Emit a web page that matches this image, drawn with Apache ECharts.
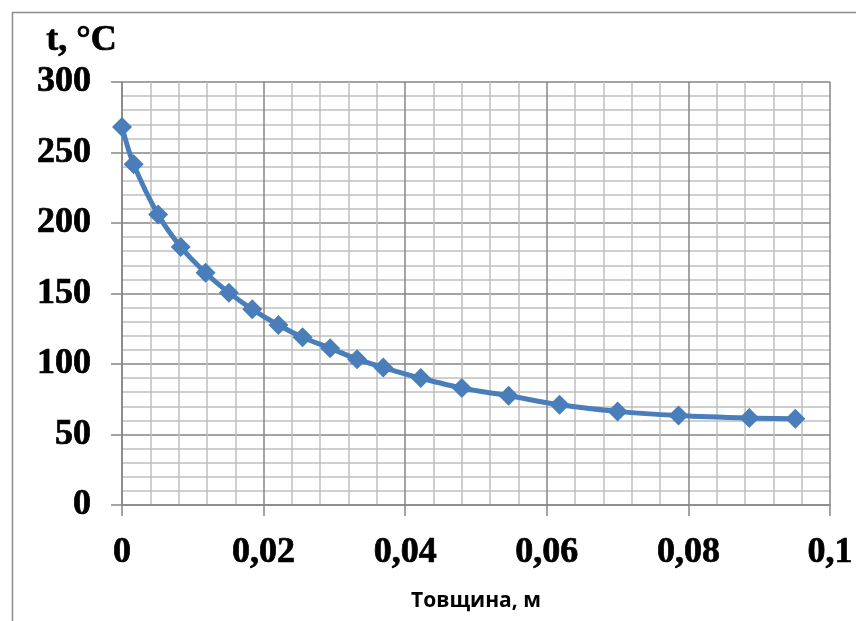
<!DOCTYPE html>
<html>
<head>
<meta charset="utf-8">
<script src="https://cdn.jsdelivr.net/npm/echarts@6/dist/echarts.min.js"></script>
<style>html,body{margin:0;padding:0;background:#fff}#c{width:856px;height:621px}</style>
</head>
<body>
<div id="c"></div>
<script>
const thickness = [0, 0.00165, 0.0051, 0.0083, 0.0118, 0.0151, 0.0184, 0.0221, 0.0255, 0.0294, 0.0332, 0.0369, 0.0422, 0.0480, 0.0546, 0.0618, 0.0700, 0.0786, 0.0886, 0.0951];
const temperature = [268, 241.6, 206, 183, 164.7, 150.6, 138.8, 127.7, 119, 111.2, 103.4, 97.5, 90, 82.9, 77.5, 71.1, 66.4, 63.5, 61.7, 61.2];
const yTitle = 't, °C';
const xTitle = 'Товщина, м';

const chart = echarts.init(document.getElementById('c'));
const tnr = '"Liberation Serif", "Times New Roman", serif';
const heavy = {textBorderColor: '#000', textBorderWidth: 0.7};
chart.setOption({
  animation: false,
  graphic: [
    {type: 'rect', shape: {x: 12.5, y: 12.5, width: 1000, height: 1000}, style: {fill: 'none', stroke: '#8c8c8c', lineWidth: 1.5}, z: -10},
    {type: 'text', left: 46, top: 22, style: Object.assign({text: yTitle, font: 'bold 36px ' + tnr, fill: '#000'}, {stroke: '#000', lineWidth: 0.7})}
  ],
  grid: {left: 122, right: 26, top: 82, bottom: 116, containLabel: false},
  xAxis: {
    type: 'value', min: 0, max: 0.1, interval: 0.02,
    name: xTitle, nameLocation: 'middle', nameGap: 86,
    nameTextStyle: {fontFamily: '"Open Sans", sans-serif', fontWeight: 'bold', fontSize: 21, color: '#000'},
    axisLine: {show: true, lineStyle: {color: '#868686', width: 1.5}},
    axisTick: {show: true, inside: false, length: 11, lineStyle: {color: '#868686', width: 1.5}},
    axisLabel: Object.assign({margin: 30, fontFamily: tnr, fontWeight: 'bold', fontSize: 36, color: '#000',
      formatter: v => String(+v.toFixed(3)).replace('.', ',')}, heavy),
    splitLine: {show: true, lineStyle: {color: '#868686', width: 1.5}},
    minorTick: {show: false, splitNumber: 5},
    minorSplitLine: {show: true, lineStyle: {color: '#c0c0c0', width: 1.5}}
  },
  yAxis: {
    type: 'value', min: 0, max: 300, interval: 50,
    axisLine: {show: true, lineStyle: {color: '#868686', width: 1.5}},
    axisTick: {show: true, inside: false, length: 11, lineStyle: {color: '#868686', width: 1.5}},
    axisLabel: Object.assign({margin: 31, fontFamily: tnr, fontWeight: 'bold', fontSize: 36, color: '#000'}, heavy),
    splitLine: {show: true, lineStyle: {color: '#868686', width: 1.5}},
    minorTick: {show: false, splitNumber: 5},
    minorSplitLine: {show: true, lineStyle: {color: '#c0c0c0', width: 1.5}}
  },
  series: [{
    type: 'line',
    data: thickness.map((x, i) => [x, temperature[i]]),
    smooth: 0.3,
    symbol: 'diamond', symbolSize: 20,
    lineStyle: {color: '#4a7ebb', width: 5},
    itemStyle: {color: '#4a7ebb'}
  }]
});
</script>
</body>
</html>
